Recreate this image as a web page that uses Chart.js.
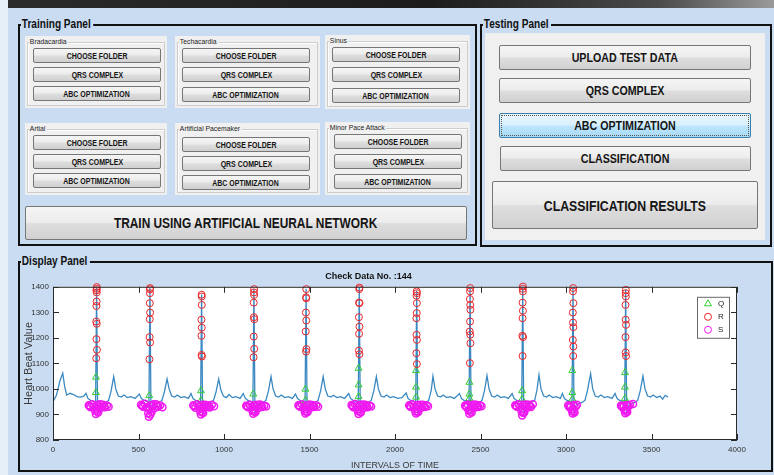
<!DOCTYPE html>
<html>
<head>
<meta charset="utf-8">
<title>ECG Classification GUI</title>
<script src="https://cdn.jsdelivr.net/npm/chart.js@4.4.0/dist/chart.umd.min.js"></script>
<style>
    body {
        margin: 0;
        width: 774px;
        height: 475px;
        overflow: hidden;
        position: relative;
        background: #c9dcf1;
        font-family: "Liberation Sans", Arial, sans-serif;
    }
    .topbar {
        position: absolute; left: 8px; top: 0; width: 766px; height: 8px;
        background: linear-gradient(to right, #2b2b2b, #1c1c1c 55%, #4a4a4a 85%, #9a9a9a);
    }
    .leftstrip { position: absolute; left: 0; top: 0; width: 8px; height: 475px; background: #e6eef8; }
    .panel { position: absolute; box-sizing: border-box; border: 2px solid #111; }
    .ptitle {
        position: absolute; left: 1px; top: -9px; padding: 0 3px 0 1px;
        background: #c9dcf1; font-weight: bold; font-size: 12px; line-height: 14px; color: #111;
        transform: scaleX(0.84); transform-origin: left center; white-space: nowrap;
    }
    .sub { position: absolute; background: #f0f0f0; }
    .etch {
        position: absolute; left: 2px; top: 6px; right: 2px; bottom: 2px;
        border: 1px solid #cdcdcd; box-shadow: inset 1px 1px 0 #fff;
    }
    .stitle {
        position: absolute; left: 4px; top: 0; padding: 0 2px 0 1px;
        background: #f0f0f0; font-size: 8px; line-height: 11px; color: #222;
        transform: scaleX(0.85); transform-origin: left center; white-space: nowrap;
    }
    .btn {
        position: absolute; box-sizing: border-box;
        border: 1px solid #767676; border-radius: 2px;
        background: linear-gradient(#f5f5f5 0%, #ececec 48%, #dedede 52%, #d0d0d0 100%);
        display: flex; align-items: center; justify-content: center;
        font-weight: bold; color: #151515; white-space: nowrap;
    }
    .btn span { display: inline-block; transform: scaleX(0.82); }
    .btn.sm { width: 128px; height: 15px; font-size: 8.5px; }
    .btn.md { width: 252px; height: 25px; font-size: 13px; }
    .btn.focus {
        border-color: #3c7fb1;
        background: linear-gradient(#eaf6fd 0%, #d9f0fc 48%, #bee6fd 52%, #a7d9f5 100%);
        outline: 1px dotted #555; outline-offset: -3px;
    }
    #ecg-chart { position: absolute; left: 0; top: 262px; }
</style>
</head>
<body>
<div class="leftstrip"></div>
<div class="topbar"></div>

<!-- Training panel -->
<div class="panel" style="left:18px;top:24px;width:459px;height:222px"><span class="ptitle">Training Panel</span></div>

<div class="sub" style="left:25px;top:36px;width:142px;height:72px">
    <div class="etch"></div><span class="stitle">Bradacardia</span>
    <div class="btn sm" style="left:8px;top:12px"><span>CHOOSE FOLDER</span></div>
    <div class="btn sm" style="left:8px;top:31px"><span>QRS COMPLEX</span></div>
    <div class="btn sm" style="left:8px;top:50px"><span>ABC OPTIMIZATION</span></div>
</div>
<div class="sub" style="left:175px;top:36px;width:145px;height:72px">
    <div class="etch"></div><span class="stitle">Techacardia</span>
    <div class="btn sm" style="left:7px;top:12px"><span>CHOOSE FOLDER</span></div>
    <div class="btn sm" style="left:7px;top:31px"><span>QRS COMPLEX</span></div>
    <div class="btn sm" style="left:7px;top:51px"><span>ABC OPTIMIZATION</span></div>
</div>
<div class="sub" style="left:325px;top:35px;width:145px;height:74px">
    <div class="etch"></div><span class="stitle">Sinus</span>
    <div class="btn sm" style="left:7px;top:12px"><span>CHOOSE FOLDER</span></div>
    <div class="btn sm" style="left:7px;top:32px"><span>QRS COMPLEX</span></div>
    <div class="btn sm" style="left:7px;top:53px"><span>ABC OPTIMIZATION</span></div>
</div>
<div class="sub" style="left:25px;top:123px;width:142px;height:72px">
    <div class="etch"></div><span class="stitle">Artial</span>
    <div class="btn sm" style="left:8px;top:12px"><span>CHOOSE FOLDER</span></div>
    <div class="btn sm" style="left:8px;top:31px"><span>QRS COMPLEX</span></div>
    <div class="btn sm" style="left:8px;top:50px"><span>ABC OPTIMIZATION</span></div>
</div>
<div class="sub" style="left:175px;top:123px;width:145px;height:72px">
    <div class="etch"></div><span class="stitle">Artificial Pacemaker</span>
    <div class="btn sm" style="left:7px;top:14px"><span>CHOOSE FOLDER</span></div>
    <div class="btn sm" style="left:7px;top:33px"><span>QRS COMPLEX</span></div>
    <div class="btn sm" style="left:7px;top:52px"><span>ABC OPTIMIZATION</span></div>
</div>
<div class="sub" style="left:325px;top:122px;width:145px;height:73px">
    <div class="etch"></div><span class="stitle">Minor Pace Attack</span>
    <div class="btn sm" style="left:9px;top:12px"><span>CHOOSE FOLDER</span></div>
    <div class="btn sm" style="left:9px;top:32px"><span>QRS COMPLEX</span></div>
    <div class="btn sm" style="left:9px;top:52px"><span>ABC OPTIMIZATION</span></div>
</div>
<div class="btn" style="left:25px;top:206px;width:442px;height:34px;font-size:14.5px"><span>TRAIN USING ARTIFICIAL NEURAL NETWORK</span></div>

<!-- Testing panel -->
<div class="panel" style="left:480px;top:24px;width:292px;height:223px"><span class="ptitle">Testing Panel</span></div>
<div class="sub" style="left:485px;top:33px;width:280px;height:207px"></div>
<div class="btn md" style="left:499px;top:45px"><span>UPLOAD TEST DATA</span></div>
<div class="btn md" style="left:499px;top:78px"><span>QRS COMPLEX</span></div>
<div class="btn md focus" style="left:499px;top:113px"><span>ABC OPTIMIZATION</span></div>
<div class="btn md" style="left:500px;top:146px;width:251px"><span>CLASSIFICATION</span></div>
<div class="btn" style="left:492px;top:181px;width:266px;height:48px;font-size:15px"><span>CLASSIFICATION RESULTS</span></div>

<!-- Display panel -->
<div class="panel" style="left:18px;top:261px;width:755px;height:211px"><span class="ptitle">Display Panel</span></div>
<canvas id="ecg-chart" width="774" height="212"></canvas>

<script>
// ECG signal (sample index vs heart beat value)
const signalX = [0,20,40,57,68,80,100,120,140,160,180,193,205,220,240,249,255,261,269,285,305,325,340,355,367,382,400,415,435,455,480,
    505,517,532,552,561,567,573,581,597,617,637,652,667,679,694,712,727,747,767,792,
    807,819,834,854,863,869,875,883,899,919,939,954,969,981,996,1014,1029,1049,1069,1094,
    1113,1125,1140,1160,1169,1175,1181,1189,1205,1225,1245,1260,1275,1287,1302,1320,1335,1355,1375,1400,
    1418,1430,1445,1465,1474,1480,1486,1494,1510,1530,1550,1565,1580,1592,1607,1625,1640,1660,1680,1705,
    1729,1741,1756,1776,1785,1791,1797,1805,1821,1841,1861,1876,1891,1903,1918,1936,1951,1971,1991,2016,2040,
    2065,2077,2092,2112,2121,2127,2133,2141,2157,2177,2197,2212,2222,2234,2249,2267,2282,2302,2322,2347,
    2377,2389,2404,2424,2433,2439,2445,2453,2469,2489,2509,2524,2538,2550,2565,2583,2598,2618,2638,2663,
    2685,2697,2712,2732,2741,2747,2753,2761,2777,2797,2817,2830,2842,2854,2869,2887,2902,2922,2942,2967,
    2979,2991,3006,3026,3035,3041,3047,3055,3071,3091,3111,3126,3144,3156,3171,3189,3204,3224,3244,3269,
    3287,3299,3314,3334,3343,3349,3355,3363,3379,3399,3419,3434,3450,3462,3477,3495,3510,3530,3550,3565,3580,3596];
const signalY = [950,975,1030,1062,1010,976,983,978,970,968,972,983,962,955,950,942,1395,902,935,942,946,955,992,1048,1000,972,968,976,966,970,963,
    980,962,955,950,942,1395,902,935,942,946,955,990,1039,1000,972,968,976,966,970,963,
    982,962,955,950,942,1370,900,935,942,946,955,990,1039,998,972,966,978,966,970,963,
    982,963,955,950,942,1392,902,935,942,946,955,992,1048,1000,972,968,976,966,970,963,
    980,962,955,950,942,1392,903,935,942,946,955,992,1048,1000,972,968,975,966,970,963,
    982,962,955,950,942,1398,902,935,942,946,955,992,1048,1000,972,968,976,966,970,963,966,
    984,962,955,950,942,1385,902,935,942,946,955,995,1050,1000,972,968,976,966,970,963,
    982,962,955,950,942,1396,902,935,942,946,955,995,1052,1000,972,968,976,966,970,963,
    982,962,955,950,942,1400,898,935,942,946,955,995,1055,1000,972,968,976,966,970,963,
    982,962,955,950,942,1396,902,935,942,946,955,995,1059,1000,972,968,976,966,970,963,
    982,962,955,950,942,1388,902,935,942,946,955,992,1050,1000,972,968,976,966,972,960,975,968];

// Q points (green triangles)
const qX = [251,251, 563, 865,865, 1171, 1476,1476, 1787,1787,1787, 2123,2123,2123, 2435,2435,2435, 2743,2743, 3037,3037,3037, 3345,3345,3345];
const qY = [1046,986, 974, 993,955, 980, 999,955, 1081,1016,970, 1072,1007,968, 1026,980,963, 993,960, 1072,986,960, 1064,1007,963];

// R points (red circles)
const rX = [256,256,254,256,255,254,253,256,254,257,253,
    568,567,567,566,568,566,565,568,564,
    869,870,870,868,870,868,869,871,
    1176,1175,1176,1174,1175,1177,1174,1177,1173,
    1481,1480,1481,1479,1481,1478,1482,1480,
    1792,1791,1790,1792,1789,1792,1790,1789,1792,
    2127,2128,2126,2128,2127,2125,2126,2128,2125,2128,
    2440,2439,2438,2440,2441,2439,2437,2440,2441,2438,
    2748,2747,2748,2746,2748,2746,2745,2749,2746,
    3042,3041,3043,3040,3041,3043,3040,3043,3042,
    3350,3349,3350,3348,3349,3351,3348,3349,3351];
const rY = [1399,1392,1386,1378,1342,1325,1264,1255,1195,1153,1120,
    1395,1390,1375,1336,1299,1273,1203,1182,1116,
    1369,1362,1329,1271,1240,1208,1133,1127,
    1391,1378,1368,1338,1281,1273,1205,1157,1124,
    1391,1359,1355,1299,1268,1225,1156,1146,
    1397,1391,1338,1336,1281,1244,1216,1150,1136,
    1382,1375,1365,1336,1297,1277,1212,1192,1140,1097,
    1395,1382,1352,1329,1310,1264,1225,1212,1179,1101,
    1401,1392,1382,1338,1306,1277,1208,1203,1129,
    1395,1382,1336,1299,1260,1242,1192,1166,1129,
    1388,1375,1362,1329,1271,1251,1203,1143,1129];

// S points (magenta circles)
const sX = [209,214,219,229,239,247,251,255,258,260,264,271,276,281,291,297,303,315,325,
    515,521,527,537,547,557,561,565,569,572,576,583,588,593,603,609,615,627,640,
    820,826,832,843,853,861,865,869,872,874,878,885,890,895,905,911,917,929,942,
    1130,1135,1140,1150,1160,1167,1171,1175,1178,1180,1184,1191,1196,1201,1211,1217,1223,1235,1246,
    1435,1440,1445,1455,1465,1472,1476,1480,1483,1485,1489,1496,1501,1506,1516,1522,1528,1540,1550,
    1746,1751,1756,1766,1776,1783,1787,1791,1794,1796,1800,1807,1812,1817,1827,1833,1839,1851,1860,
    2083,2088,2092,2101,2111,2119,2123,2127,2130,2132,2136,2143,2148,2153,2163,2169,2175,2185,2193,
    2410,2414,2418,2425,2431,2435,2439,2442,2444,2448,2455,2460,2465,2475,2481,2487,2497,2506,
    2703,2708,2712,2722,2732,2740,2744,2747,2750,2752,2756,2763,2768,2773,2783,2789,2795,2806,
    3013,3017,3021,3029,3035,3039,3041,3044,3046,3050,3057,3064,
    3322,3326,3330,3338,3343,3347,3349,3352,3354,3358,3366,3374,3361,3392];
const sY = [936,932,928,940,930,915,902,922,912,938,908,932,940,926,938,930,928,935,930,
    938,934,930,942,928,905,891,920,900,936,910,934,940,924,940,932,930,936,928,
    936,932,926,940,932,912,900,921,910,938,906,930,938,928,936,930,927,938,932,
    934,932,928,938,930,914,903,920,912,937,909,931,938,925,939,932,929,934,931,
    936,933,930,940,929,913,904,922,912,936,910,933,939,926,937,932,929,936,930,
    937,933,928,941,931,914,902,921,911,938,908,932,939,925,938,933,928,935,931,
    936,932,929,940,930,912,904,922,913,937,910,932,938,926,938,931,929,936,932,
    935,931,928,939,916,903,921,911,937,908,933,939,926,938,932,929,936,932,
    936,933,930,940,930,912,896,920,906,938,909,932,939,926,938,933,929,940,
    936,931,928,934,915,904,922,912,937,908,931,938,
    935,931,928,934,916,905,921,912,937,910,932,938,934,941];

const seriesNames = ['Q', 'R', 'S'];
const xTicks = [0, 500, 1000, 1500, 2000, 2500, 3000, 3500, 4000];
const yTicks = [800, 900, 1000, 1100, 1200, 1300, 1400];

const toPoints = (xs, ys) => xs.map((x, i) => ({ x: x, y: ys[i] }));

// White plot area, box outline and inward tick marks (MATLAB style)
const axisBox = {
    id: 'axisBox',
    beforeDatasetsDraw(chart) {
        const { ctx, chartArea: a } = chart;
        ctx.save();
        ctx.fillStyle = '#ffffff';
        ctx.fillRect(a.left, a.top, a.right - a.left, a.bottom - a.top);
        ctx.restore();
    },
    afterDatasetsDraw(chart) {
        const { ctx, chartArea: a, scales } = chart;
        ctx.save();
        ctx.strokeStyle = '#2a2a2a';
        ctx.lineWidth = 1;
        ctx.strokeRect(a.left + 0.5, a.top + 0.5, a.right - a.left - 1, a.bottom - a.top - 1);
        ctx.beginPath();
        xTicks.forEach(v => {
            const px = Math.round(scales.x.getPixelForValue(v)) + 0.5;
            ctx.moveTo(px, a.bottom); ctx.lineTo(px, a.bottom - 6);
            ctx.moveTo(px, a.top); ctx.lineTo(px, a.top + 6);
        });
        yTicks.forEach(v => {
            const py = Math.round(scales.y.getPixelForValue(v)) + 0.5;
            ctx.moveTo(a.left, py); ctx.lineTo(a.left + 6, py);
            ctx.moveTo(a.right, py); ctx.lineTo(a.right - 6, py);
        });
        ctx.stroke();
        ctx.restore();
    }
};

// Legend box inside the axes, upper right
const insideLegend = {
    id: 'insideLegend',
    afterDraw(chart) {
        const { ctx, chartArea: a } = chart;
        const left = a.right - 40, top = a.top + 10, w = 32, h = 41;
        ctx.save();
        ctx.fillStyle = '#ffffff';
        ctx.fillRect(left, top, w, h);
        ctx.strokeStyle = '#6a6a6a';
        ctx.lineWidth = 1;
        ctx.strokeRect(left + 0.5, top + 0.5, w, h);
        ctx.font = '8px "Liberation Sans", Arial, sans-serif';
        ctx.textBaseline = 'middle';
        seriesNames.forEach((name, i) => {
            const ds = chart.data.datasets[i + 1];
            const cx = left + 11, cy = top + 7 + i * 13, r = ds.pointRadius;
            ctx.strokeStyle = ds.borderColor;
            ctx.lineWidth = 1;
            ctx.beginPath();
            if (ds.pointStyle === 'triangle') {
                ctx.moveTo(cx, cy - r);
                ctx.lineTo(cx + r * 0.87, cy + r * 0.5);
                ctx.lineTo(cx - r * 0.87, cy + r * 0.5);
                ctx.closePath();
            } else {
                ctx.arc(cx, cy, r, 0, Math.PI * 2);
            }
            ctx.stroke();
            ctx.fillStyle = '#222';
            ctx.fillText(name, left + 21, cy);
        });
        ctx.restore();
    }
};

Chart.defaults.font.family = '"Liberation Sans", Arial, sans-serif';
Chart.defaults.color = '#333';

new Chart(document.getElementById('ecg-chart'), {
    type: 'scatter',
    data: {
        datasets: [
            {
                type: 'line',
                data: toPoints(signalX, signalY),
                borderColor: '#3b89c2',
                borderWidth: 1.3,
                pointRadius: 0,
                fill: false,
                tension: 0,
                order: 3
            },
            {
                label: seriesNames[0],
                data: toPoints(qX, qY),
                pointStyle: 'triangle',
                pointRadius: 4,
                borderWidth: 1,
                borderColor: '#33cc33',
                backgroundColor: 'rgba(0,0,0,0)',
                clip: false,
                order: 2
            },
            {
                label: seriesNames[1],
                data: toPoints(rX, rY),
                pointStyle: 'circle',
                pointRadius: 3.5,
                borderWidth: 1,
                borderColor: '#e8262b',
                backgroundColor: 'rgba(0,0,0,0)',
                clip: false,
                order: 1
            },
            {
                label: seriesNames[2],
                data: toPoints(sX, sY),
                pointStyle: 'circle',
                pointRadius: 3.5,
                borderWidth: 1.5,
                borderColor: '#f019f0',
                backgroundColor: 'rgba(0,0,0,0)',
                clip: false,
                order: 0
            }
        ]
    },
    options: {
        responsive: false,
        animation: false,
        layout: { padding: { left: 0, right: 37, top: 0, bottom: 0 } },
        plugins: {
            legend: { display: false },
            tooltip: { enabled: false },
            title: {
                display: true,
                text: 'Check Data No. :144',
                color: '#111',
                font: { size: 9, weight: 'bold' },
                padding: { top: 9, bottom: 5 }
            }
        },
        scales: {
            x: {
                type: 'linear',
                min: 0,
                max: 4000,
                afterBuildTicks: axis => { axis.ticks = xTicks.map(v => ({ value: v })); },
                afterFit: axis => { axis.height = 34; },
                grid: { display: false, drawTicks: false },
                border: { display: false },
                ticks: { padding: 5, font: { size: 8 }, color: '#333', maxRotation: 0, callback: v => String(v) },
                title: { display: true, text: 'INTERVALS OF TIME', font: { size: 9 }, color: '#3a3a3a', padding: { top: 0, bottom: 3 } }
            },
            y: {
                type: 'linear',
                min: 800,
                max: 1400,
                afterBuildTicks: axis => { axis.ticks = yTicks.map(v => ({ value: v })); },
                afterFit: axis => { axis.width = 53; },
                grid: { display: false, drawTicks: false },
                border: { display: false },
                ticks: { padding: 4, font: { size: 8 }, color: '#333', callback: v => String(v) },
                title: { display: true, text: 'Heart Beat Value', font: { size: 11 }, color: '#3a3a3a', padding: { top: 22, bottom: 0 } }
            }
        }
    },
    plugins: [axisBox, insideLegend]
});
</script>
</body>
</html>
